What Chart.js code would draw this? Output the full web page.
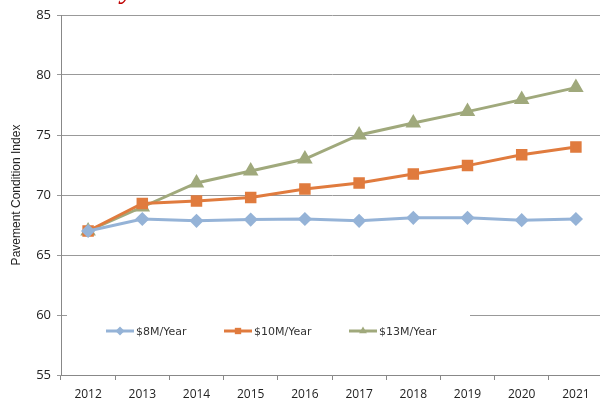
<!DOCTYPE html>
<html lang="en">
<head>
  <meta charset="UTF-8" />
  <title>Pavement Condition Index</title>
  <style>
    html, body {
      margin: 0;
      padding: 0;
      background: #fff;
      overflow: hidden;
    }
    .chart-container {
      position: relative;
      width: 612px;
      height: 402px;
    }
    .title-cut {
      position: absolute;
      left: 121px;
      top: -29px;
      font-family: "Liberation Serif", serif;
      font-style: italic;
      font-size: 30px;
      color: #c00000;
    }
  </style>
</head>
<body>
  <div class="chart-container">
    <canvas id="pciChart"></canvas>
    <div class="title-cut">y</div>
  </div>

  <script src="https://cdn.jsdelivr.net/npm/chart.js"></script>
  <script>
    // data
    const years = ['2012', '2013', '2014', '2015', '2016', '2017', '2018', '2019', '2020', '2021'];
    const pci8M  = [67, 68, 67.85, 67.95, 68, 67.85, 68.1, 68.1, 67.9, 68];
    const pci10M = [67, 69.3, 69.5, 69.8, 70.5, 71, 71.75, 72.45, 73.35, 74];
    const pci13M = [67, 69, 71, 72, 73, 75, 76, 76.95, 77.95, 78.95];
    const seriesNames = ['$8M/Year', '$10M/Year', '$13M/Year'];

    const blue = '#95b3d7';
    const orange = '#e07b3e';
    const green = '#a0a97c';

    // legend drawn inside the plot, on a white box
    const insideLegend = {
      id: 'insideLegend',
      afterDatasetsDraw(chart) {
        const ctx = chart.ctx;
        ctx.save();
        ctx.fillStyle = '#fff';
        ctx.fillRect(67, 308, 403, 44);
        const xs = [106, 224, 349];
        const y = 331;
        ctx.font = '11px "DejaVu Sans", sans-serif';
        ctx.textBaseline = 'middle';
        chart.data.datasets.forEach((ds, i) => {
          const x = xs[i];
          ctx.strokeStyle = ds.borderColor;
          ctx.lineWidth = 3;
          ctx.beginPath();
          ctx.moveTo(x, y);
          ctx.lineTo(x + 28, y);
          ctx.stroke();
          ctx.fillStyle = ds.borderColor;
          Chart.helpers.drawPoint(ctx, {
            pointStyle: ds.pointStyle,
            radius: 4.5,
            rotation: 0,
            borderWidth: 0
          }, x + 14, y);
          ctx.fillStyle = '#333';
          ctx.fillText(ds.label, x + 30, y + 1);
        });
        ctx.restore();
      }
    };

    new Chart(document.getElementById('pciChart'), {
      type: 'line',
      data: {
        labels: years,
        datasets: [
          {
            label: seriesNames[0],
            data: pci8M,
            borderColor: blue,
            backgroundColor: blue,
            borderWidth: 3,
            pointStyle: 'rectRot',
            pointRadius: 5,
            pointHoverRadius: 5,
            tension: 0
          },
          {
            label: seriesNames[1],
            data: pci10M,
            borderColor: orange,
            backgroundColor: orange,
            borderWidth: 3,
            pointStyle: 'rect',
            pointRadius: 6,
            pointHoverRadius: 6,
            tension: 0
          },
          {
            label: seriesNames[2],
            data: pci13M,
            borderColor: green,
            backgroundColor: green,
            borderWidth: 3,
            pointStyle: 'triangle',
            pointRadius: 6,
            pointHoverRadius: 6,
            tension: 0
          }
        ]
      },
      options: {
        responsive: true,
        maintainAspectRatio: false,
        animation: false,
        layout: {
          padding: { top: 15, right: 1, left: 0, bottom: 0 }
        },
        plugins: {
          legend: { display: false },
          tooltip: { enabled: false }
        },
        scales: {
          x: {
            offset: true,
            afterFit: (s) => { s.height = 27; },
            grid: {
              offset: true,
              drawOnChartArea: false,
              drawTicks: true,
              tickLength: 5,
              color: '#888'
            },
            border: { color: '#888', width: 1 },
            ticks: {
              color: '#222',
              padding: 7,
              font: { family: '"Open Sans", sans-serif', size: 12 }
            }
          },
          y: {
            min: 55,
            max: 85,
            afterFit: (s) => { s.width = 61; },
            grid: {
              color: '#999',
              lineWidth: 1,
              tickLength: 4
            },
            border: { color: '#888', width: 1 },
            ticks: {
              stepSize: 5,
              color: '#222',
              padding: 6,
              font: { family: '"Open Sans", sans-serif', size: 13 }
            },
            title: {
              display: true,
              text: 'Pavement Condition Index',
              color: '#222',
              padding: { top: 9, bottom: 0 },
              font: { family: '"Liberation Sans", sans-serif', size: 12 }
            }
          }
        }
      },
      plugins: [insideLegend]
    });
  </script>
</body>
</html>
